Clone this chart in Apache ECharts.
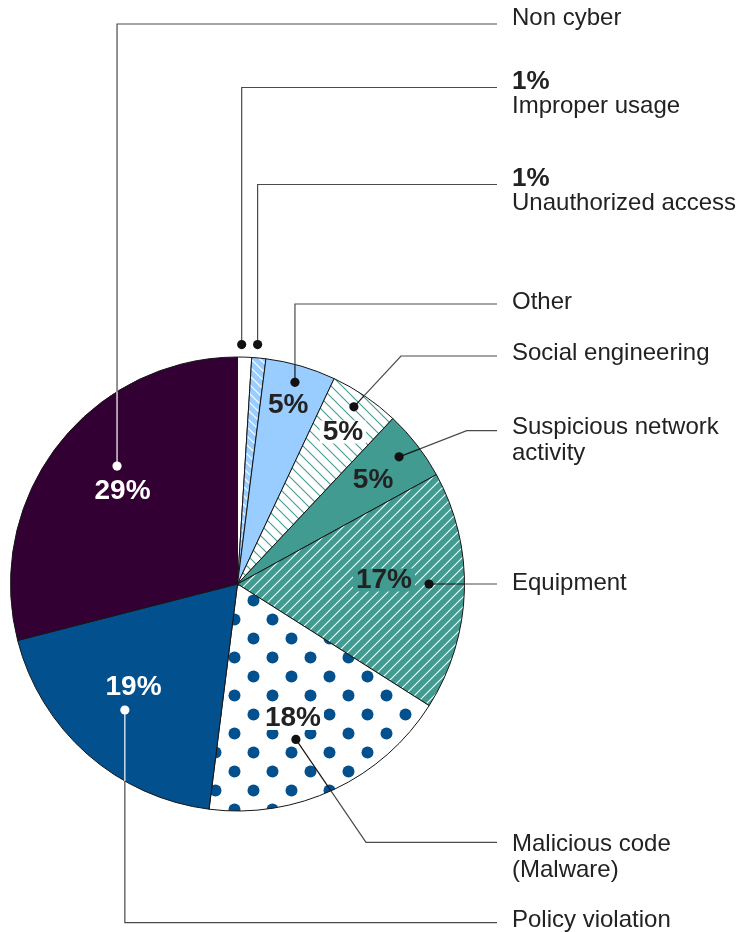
<!DOCTYPE html>
<html>
<head>
<meta charset="utf-8">
<script src="https://cdn.jsdelivr.net/npm/echarts@6/dist/echarts.min.js"></script>
<style>
  html, body { margin: 0; padding: 0; background: #ffffff; }
  #chart { width: 741px; height: 932px; }
</style>
</head>
<body>
<div id="chart"></div>
<script>
// Incident categories, clockwise from 12 o'clock ("\n" marks a label line break)
const categories = [
  'Improper usage',
  'Unauthorized access',
  'Other',
  'Social engineering',
  'Suspicious network\nactivity',
  'Equipment',
  'Malicious code\n(Malware)',
  'Policy violation',
  'Non cyber'
];
// Share of incidents, percent
const values = [1, 1, 5, 5, 5, 17, 18, 19, 29];

// ---- layout -------------------------------------------------------------
const CX = 237.5, CY = 584, R = 227;
const FONT = "'Liberation Sans', Arial, Helvetica, sans-serif";
const TEXT = '#222222';
const LINE_OUT = '#4a4a4a';
const LINE_END_X = 497, LABEL_X = 512;

const TEAL = '#429b91', SKY = '#99ccff', NAVY = '#03508f', PLUM = '#330033';

// callout placement per slice: dot polar offset (deg) and radius, leader elbow,
// right label cap-centre y, and percentage position relative to the dot
const callouts = [
  { da: -0.8, r: 239.5, ex: null,  ey: 87.5,  ty: 81.7,  pctRight: true },
  { da: -0.6, r: 240.3, ex: null,  ey: 184.5, ty: 179,   pctRight: true },
  { da: -0.3, r: 209.7, ex: null,  ey: 304,   ty: 302.5, px: -6.7, py: 22.7 },
  { da: -0.9, r: 212,   ex: 401,   ey: 356,   ty: 353,   px: -11,  py: 25.3, bg: '#ffffff' },
  { da: -0.4, r: 205.6, ex: 466.7, ey: 430.7, ty: 427,   px: -26,  py: 23.6 },
  { da: -1.8, r: 191.5, ex: null,  ey: null,  ty: 583,   px: -45,  py: -4,   bg: TEAL },
  { da: 4.6,  r: 166,   ex: 366,   ey: 842.3, ty: 844,   px: -3,   py: -21,  bg: '#ffffff' },
  { da: 0.4,  r: 169,   ex: null,  ey: 922.7, ty: 920,   px: 8.7,  py: -22.7, light: true },
  { da: 6.6,  r: 168.6, ex: null,  ey: 24,    ty: 18.3,  px: 5.5,  py: 25.7,  light: true }
];

// ---- fill patterns --------------------------------------------------------
function hatch(bg, fg, size, dir, lw) {
  const c = document.createElement('canvas');
  c.width = size; c.height = size;
  const g = c.getContext('2d');
  g.fillStyle = bg; g.fillRect(0, 0, size, size);
  g.strokeStyle = fg; g.lineWidth = lw;
  g.beginPath();
  if (dir === '/') {
    g.moveTo(-1, size + 1); g.lineTo(size + 1, -1);
    g.moveTo(-1, 1); g.lineTo(1, -1);
    g.moveTo(size - 1, size + 1); g.lineTo(size + 1, size - 1);
  } else {
    g.moveTo(-1, -1); g.lineTo(size + 1, size + 1);
    g.moveTo(-1, size - 1); g.lineTo(1, size + 1);
    g.moveTo(size - 1, -1); g.lineTo(size + 1, 1);
  }
  g.stroke();
  return { image: c, repeat: 'repeat' };
}
function dots(bg, fg, size, rad) {
  const c = document.createElement('canvas');
  c.width = size; c.height = size;
  const g = c.getContext('2d');
  g.fillStyle = bg; g.fillRect(0, 0, size, size);
  g.fillStyle = fg;
  [[25.5, 30.5], [6.5, 11.5]].forEach(([x, y]) => {
    g.beginPath(); g.arc(x, y, rad, 0, Math.PI * 2); g.fill();
  });
  return { image: c, repeat: 'repeat' };
}

const fills = [
  '#ffffff',
  hatch(SKY, '#ffffff', 9, '\\', 1.2),
  SKY,
  hatch('#ffffff', TEAL, 11, '\\', 1.1),
  TEAL,
  hatch(TEAL, '#ffffff', 10, '/', 1.1),
  dots('#ffffff', NAVY, 38, 6),
  NAVY,
  PLUM
];

// ---- callout graphics -----------------------------------------------------
function polar(aDeg, r) {
  const a = aDeg * Math.PI / 180;
  return [CX + r * Math.sin(a), CY - r * Math.cos(a)];
}
function inside(p) { return Math.hypot(p[0] - CX, p[1] - CY) < R; }
// point where segment p->q leaves the pie circle
function exitPoint(p, q) {
  const dx = q[0] - p[0], dy = q[1] - p[1];
  const fx = p[0] - CX, fy = p[1] - CY;
  const A = dx * dx + dy * dy, B = 2 * (fx * dx + fy * dy), C = fx * fx + fy * fy - R * R;
  const t = (-B + Math.sqrt(B * B - 4 * A * C)) / (2 * A);
  return [p[0] + t * dx, p[1] + t * dy];
}

const total = values.reduce((s, v) => s + v, 0);
const graphics = [];
let acc = 0;
values.forEach((v, i) => {
  const L = callouts[i];
  const mid = (acc + v / 2) / total * 360 + L.da;
  acc += v;
  const dot = polar(mid, L.r);
  const elbow = [L.ex == null ? dot[0] : L.ex, L.ey == null ? dot[1] : L.ey];
  const end = [LINE_END_X, elbow[1]];
  const pts = [dot, elbow, end];
  const inColor = L.light ? '#ffffff' : '#151515';

  // split the leader where it crosses the pie edge
  let inPts = [dot], outPts = null;
  if (inside(dot)) {
    for (let k = 0; k < pts.length - 1; k++) {
      const a = pts[k], b = pts[k + 1];
      if (inside(b)) { inPts.push(b); continue; }
      const x = exitPoint(a, b);
      inPts.push(x);
      outPts = [x].concat(pts.slice(k + 1));
      break;
    }
  } else {
    inPts = null; outPts = pts;
  }
  if (outPts) graphics.push({ type: 'polyline', z: 10, silent: true,
    shape: { points: outPts }, style: { stroke: LINE_OUT, lineWidth: 1.2, fill: null } });
  if (inPts && inPts.length > 1) graphics.push({ type: 'polyline', z: 11, silent: true,
    shape: { points: inPts }, style: { stroke: inColor, lineWidth: 1.2, fill: null } });

  const pct = v + '%';
  const lines = categories[i].split('\n');
  let y = L.ty;
  if (L.pctRight) {
    graphics.push({ type: 'text', z: 12, silent: true, x: LABEL_X, y: y,
      style: { text: pct, font: 'bold 26px ' + FONT, fill: TEXT,
        align: 'left', verticalAlign: 'middle', textAlign: 'left', textVerticalAlign: 'middle' } });
    y += 24.5;
  } else {
    const st = { text: pct, font: 'bold 28px ' + FONT, fill: L.light ? '#ffffff' : TEXT,
      align: 'center', verticalAlign: 'middle', textAlign: 'center', textVerticalAlign: 'middle' };
    if (L.bg) { st.backgroundColor = L.bg; st.padding = [-2, 3, -3, 3]; }
    graphics.push({ type: 'text', z: 11, silent: true, x: dot[0] + L.px, y: dot[1] + L.py, style: st });
  }
  graphics.push({ type: 'circle', z: 12, silent: true,
    shape: { cx: dot[0], cy: dot[1], r: 4.6 }, style: { fill: L.light ? '#ffffff' : '#111111' } });
  lines.forEach((t, k) => {
    graphics.push({ type: 'text', z: 12, silent: true, x: LABEL_X, y: y + k * 26.5,
      style: { text: t, font: '24px ' + FONT, fill: TEXT,
        align: 'left', verticalAlign: 'middle', textAlign: 'left', textVerticalAlign: 'middle' } });
  });
});

const chart = echarts.init(document.getElementById('chart'), null, { renderer: 'canvas' });
chart.setOption({
  animation: false,
  backgroundColor: '#ffffff',
  series: [{
    type: 'pie',
    center: [CX, CY],
    radius: R,
    startAngle: 90,
    clockwise: true,
    silent: true,
    avoidLabelOverlap: false,
    label: { show: false },
    labelLine: { show: false },
    emphasis: { disabled: true },
    itemStyle: { borderColor: '#161616', borderWidth: 1 },
    data: categories.map((name, i) => ({
      name: name, value: values[i], itemStyle: { color: fills[i] }
    }))
  }],
  graphic: { elements: graphics }
});
</script>
</body>
</html>
